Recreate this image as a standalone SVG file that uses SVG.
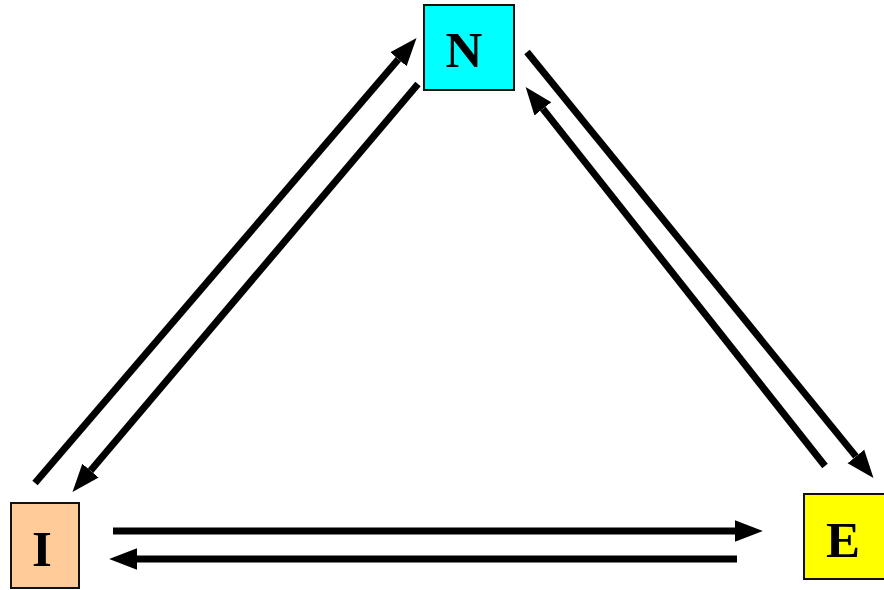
<svg xmlns="http://www.w3.org/2000/svg" width="884" height="590" viewBox="0 0 884 590">
<style>
.box{stroke:#111;stroke-width:2}
.lbl{font-family:"Liberation Serif",serif;font-weight:bold;font-size:51px;text-anchor:middle;fill:#000}
.arr{stroke:#000;stroke-width:7;fill:none;marker-end:url(#ah)}
</style>
<defs>
<marker id="ah" markerUnits="userSpaceOnUse" markerWidth="30" markerHeight="24" viewBox="0 -11 28 22" refX="0" refY="0" orient="auto">
<path d="M0,-10 L26,0 L0,10 z" fill="#000"/>
</marker>
</defs>
<rect width="884" height="590" fill="#fff"/>
<g id="connectors">
<line class="arr" x1="35" y1="483" x2="398.4" y2="59.2"/>
<line class="arr" x1="418" y1="84" x2="90.5" y2="470.7"/>
<line class="arr" x1="527" y1="52" x2="855.9" y2="456.4"/>
<line class="arr" x1="825" y1="466" x2="542.9" y2="108.8"/>
<line class="arr" x1="113" y1="531" x2="735" y2="531"/>
<line class="arr" x1="737" y1="559" x2="137" y2="559"/>
</g>
<g id="node-N">
<rect class="box" x="424" y="5" width="90" height="85" fill="#00ffff"/>
<text class="lbl" x="464" y="67">N</text>
</g>
<g id="node-I">
<rect class="box" x="11" y="503" width="68" height="85" fill="#ffcc99"/>
<text class="lbl" x="42" y="566">I</text>
</g>
<g id="node-E">
<rect class="box" x="804" y="494" width="82" height="85" fill="#ffff00"/>
<text class="lbl" x="843" y="557">E</text>
</g>
</svg>
